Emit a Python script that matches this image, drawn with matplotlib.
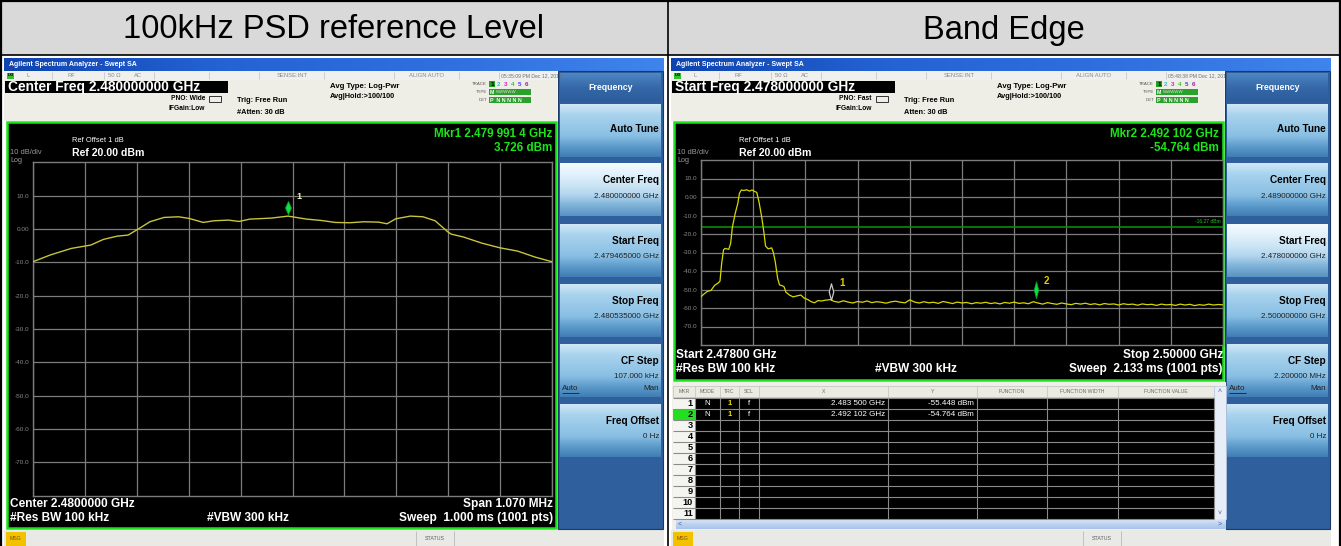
import numpy as np
import matplotlib
matplotlib.use("Agg")
import matplotlib.pyplot as plt
from matplotlib.patches import Rectangle
from matplotlib.colors import to_rgb

plt.rcParams['font.family'] = ['Liberation Sans', 'DejaVu Sans']

# ---------------- data ----------------
panel_titles = ["100kHz PSD reference Level", "Band Edge"]

# Left screen: 100 kHz PSD, centre 2.48 GHz, span 1.070 MHz
psd_center_ghz = 2.480
psd_span_khz = 1070.0
psd_offset_khz = [-535, -500, -456, -416, -390, -361, -339, -316, -294, -265,
                  -235, -213, -184, -162, -132, -110, -88, -44, -9, 29,
                  59, 88, 118, 147, 177, 195, 213, 243, 269, 294,
                  320, 327, 353, 390, 427, 464, 500, 535]
psd_level_dbm = [-9.8, -7.8, -5.8, -4.8, -3.1, -2.1, -1.8, 0.2, 2.2, 3.5,
                 3.7, 3.2, 2.0, 2.5, 2.7, 2.3, 3.0, 3.3, 3.9, 3.0,
                 2.6, 2.0, 1.9, 2.2, 2.1, 1.6, 3.1, 3.9, 3.7, 2.5,
                 -0.8, -1.5, -2.4, -4.2, -5.6, -6.6, -8.4, -9.8]
psd_mkr_freq_ghz = 2.4799914
psd_mkr_level_dbm = 3.726

# Right screen: band edge, 2.478 - 2.500 GHz
edge_start_ghz = 2.478
edge_stop_ghz = 2.500
lobe_offset_mhz = [0.00, 0.12, 0.27, 0.42, 0.57, 0.72, 0.80, 0.87, 0.95, 1.02,
                   1.17, 1.25, 1.32, 1.44, 1.55, 1.62, 1.70, 1.80, 1.92, 2.05,
                   2.15, 2.26, 2.35, 2.45, 2.56, 2.65, 2.72, 2.83, 2.98, 3.05,
                   3.13, 3.23, 3.31, 3.43, 3.50, 3.58, 3.73, 3.88, 4.03, 4.21,
                   4.33, 4.51, 4.63, 4.78, 4.93, 5.08, 5.23, 5.46]
lobe_level_dbm = [-53.9, -52.5, -51.0, -50.5, -47.8, -46.5, -45.5, -36.0, -28.5, -27.8,
                  -28.3, -25.0, -16.5, -9.0, -3.5, 2.0, 3.8, 3.5, 3.9, 3.2,
                  3.8, 3.0, 2.5, -3.0, -11.0, -19.0, -26.5, -28.0, -27.5, -30.0,
                  -35.0, -44.0, -47.5, -48.0, -48.5, -51.5, -53.0, -54.0, -53.5, -53.0,
                  -54.5, -55.5, -56.5, -57.2, -56.0, -56.2, -55.8, -55.45]
floor_start_mhz = 5.6
floor_step_mhz = 0.2
floor_level_dbm = [-56.4, -56.9, -56.1, -56.8, -57.3, -56.5, -56.9, -56.2, -57.1, -56.6,
                   -56.9, -57.4, -56.7, -56.3, -56.9, -57.2, -55.6, -56.8, -57.3, -56.6,
                   -57.2, -56.9, -57.5, -56.5, -57.0, -57.6, -56.8, -57.3, -57.0, -57.7,
                   -57.1, -57.4, -56.9, -57.6, -57.2, -57.8, -57.0, -57.4, -56.8, -57.5,
                   -57.2, -57.7, -56.6, -57.3, -57.9, -57.1, -57.6, -58.0, -57.3, -57.8,
                   -58.2, -57.5, -57.9, -57.4, -58.1, -57.7, -58.3, -57.6, -58.0, -57.8,
                   -58.4, -57.7, -58.1, -57.9, -58.5, -57.8, -58.2, -58.0, -58.6, -57.9,
                   -58.3, -58.1, -58.6, -57.9, -58.4, -58.0, -58.7, -58.2, -58.5, -57.9,
                   -58.4, -58.1, -58.3]
edge_mkr_freq_ghz = [2.4835, 2.492102]
edge_mkr_level_dbm = [-55.448, -54.764]
edge_display_line_dbm = -16.27

ref_level_dbm = 20.0
db_per_div = 10.0
y_labels = ["10.0", "0.00", "-10.0", "-20.0", "-30.0", "-40.0", "-50.0", "-60.0", "-70.0"]

# ---------------- figure ----------------
W, H = 1341, 546
fig = plt.figure(figsize=(W / 100, H / 100), dpi=100)
fig.patch.set_facecolor('white')
bg = fig.add_axes([0, 0, 1, 1])
bg.set_xlim(0, W)
bg.set_ylim(H, 0)
bg.axis('off')


def rect(x0, y0, x1, y1, fc, ec='none', lw=0, z=1):
    bg.add_patch(Rectangle((x0, y0), x1 - x0, y1 - y0, facecolor=fc, edgecolor=ec, linewidth=lw, zorder=z))


def grad(x0, y0, x1, y1, stops, horizontal=False, z=1):
    n = 64
    cols = np.array([to_rgb(c) for c in stops])
    pos = np.linspace(0, 1, len(stops))
    t = np.linspace(0, 1, n)
    img = np.stack([np.interp(t, pos, cols[:, k]) for k in range(3)], axis=1)
    img = img[None, :, :] if horizontal else img[:, None, :]
    bg.imshow(img, extent=(x0, x1, y1, y0), aspect='auto', interpolation='bilinear', zorder=z)


def txt(x, y, s, size, color='black', weight='normal', ha='left', va='center', z=5):
    bg.text(x, y, s, fontsize=size, color=color, fontweight=weight, ha=ha, va=va, zorder=z)


def hline(x0, x1, y, color, lw=1, z=2):
    bg.plot([x0, x1], [y, y], color=color, lw=lw, zorder=z, solid_capstyle='butt')


def vline(x, y0, y1, color, lw=1, z=2):
    bg.plot([x, x], [y0, y1], color=color, lw=lw, zorder=z, solid_capstyle='butt')


# ---------------- table frame ----------------
rect(0, 0, W, 55, '#d9d9d9', z=0)
hline(0, W, 0.8, 'black', 1.6, z=6)
hline(0, W, 55, 'black', 1.2, z=6)
vline(0.8, 0, H, 'black', 1.6, z=6)
vline(W - 0.8, 0, H, 'black', 1.6, z=6)
vline(668, 0, H, 'black', 1.2, z=6)
txt(334, 30, panel_titles[0], 23.5, ha='center')
txt(1004, 30, panel_titles[1], 23.5, ha='center')

GREEN = '#19e619'
GRID = '#7c7c7c'


def chrome(X0, time_s, freq_box, pno, atten, mkr1, mkr2, disp_bottom, softkeys, selected):
    # title bar
    grad(X0, 58, X0 + 660, 71, ['#0f44b0', '#2563d4', '#2f6fde', '#3f84ec'], horizontal=True)
    txt(X0 + 5, 64.5, "Agilent Spectrum Analyzer - Swept SA", 5, 'white', 'bold')
    # status row
    rect(X0, 71, X0 + 553, 80, '#f0f0ee')
    rect(X0 + 3, 72.5, X0 + 10, 78.5, '#30c030')
    txt(X0 + 6.5, 75.5, "LXI", 2.8, 'black', 'bold', ha='center')
    for dx in [48, 100, 150, 205, 255, 320, 390, 455, 495]:
        vline(X0 + dx, 72, 79, '#c8c8c8', 0.6)
    for dx, s in [(24, "L"), (67, "RF"), (110, "50 Ω"), (134, "AC"), (288, "SENSE:INT"),
                  (423, "ALIGN AUTO")]:
        txt(X0 + dx, 75.5, s, 4.2, '#8a8a8a', ha='center')
    txt(X0 + 497, 75.5, time_s, 3.7, '#707070')
    # header area
    rect(X0, 80, X0 + 553, 121, '#efeee6')
    rect(X0 + 1, 80.5, X0 + 224, 93, 'black')
    txt(X0 + 4, 87.2, freq_box, 9.9, 'white', 'bold')
    txt(X0 + 201, 99, pno, 4.8, 'black', 'bold', ha='right')
    txt(X0 + 201, 109, "IFGain:Low", 4.8, 'black', 'bold', ha='right')
    bg.add_patch(Rectangle((X0 + 205, 96), 12, 6, facecolor='none', edgecolor='#333333', lw=0.7, zorder=3))
    txt(X0 + 233, 101, "Trig: Free Run", 5.3, 'black', 'bold')
    txt(X0 + 233, 112, atten, 5.3, 'black', 'bold')
    txt(X0 + 326, 87, "Avg Type: Log-Pwr", 5.6, 'black', 'bold')
    txt(X0 + 326, 97, "Avg|Hold:>100/100", 5.3, 'black', 'bold')
    for dy, lab in [(84, "TRACE"), (92, "TYPE"), (100, "DET")]:
        txt(X0 + 483, dy, lab, 3.2, '#555555', ha='right')
    trace_cols = ['#d0d000', '#20c0e0', '#d020d0', '#30c030', '#4040ff', '#a020a0']
    rect(X0 + 485, 81, X0 + 491, 87, '#20a020')
    for i, c in enumerate(trace_cols):
        txt(X0 + 488 + i * 7, 84, str(i + 1), 4.5, c if i else 'black', 'bold', ha='center')
    rect(X0 + 485, 89, X0 + 527, 95, '#2ca02c')
    txt(X0 + 486, 92, "M", 3.8, 'white', 'bold')
    txt(X0 + 492, 92, "WWWWW", 3.2, '#e0e0e0')
    rect(X0 + 485, 97, X0 + 527, 103, '#2ca02c')
    txt(X0 + 486, 100, "P  N N N N N", 3.8, 'white', 'bold')

    # display area
    rect(X0 + 3, 122, X0 + 552, disp_bottom, 'black', GREEN, 1.8, z=2)
    txt(X0 + 68, 140, "Ref Offset 1 dB", 5.4, 'white')
    txt(X0 + 6, 153, "10 dB/div", 5.4, '#9a9a9a')
    txt(X0 + 68, 152.5, "Ref 20.00 dBm", 7.6, 'white', 'bold')
    txt(X0 + 6, 160, "Log", 5.2, '#9a9a9a')
    txt(X0 + 548, 134, mkr1, 8.4, GREEN, 'bold', ha='right', z=6)
    txt(X0 + 548, 148, mkr2, 8.4, GREEN, 'bold', ha='right', z=6)

    # MSG bar
    rect(X0, 530, X0 + 660, H, '#e9e9e6')
    rect(X0 + 2, 532, X0 + 22, H, '#f2c200')
    txt(X0 + 12, 539, "MSG", 3.8, '#805000', ha='center')
    vline(X0 + 412, 531, H, '#c0c0c0', 0.7)
    vline(X0 + 450, 531, H, '#c0c0c0', 0.7)
    txt(X0 + 431, 539, "STATUS", 3.8, '#606060', ha='center')

    # softkeys
    sx0, sx1 = X0 + 554, X0 + 659
    rect(sx0, 71, sx1, 529, '#2f5f9c', '#1a3a6a', 0.8)
    grad(sx0 + 2, 73, sx1 - 2, 102, ['#4f86c4', '#3568a8', '#2c5c9a'])
    txt((sx0 + sx1) / 2, 88, "Frequency", 6.3, 'white', 'bold', ha='center')
    tops = [104, 163, 224, 284, 344, 404]
    for i, (top, lines) in enumerate(zip(tops, softkeys)):
        bot = top + 53
        if i == selected:
            stops = ['#f4fbff', '#e2f1fb', '#cde6f5', '#b3d6ee', '#7eb2d8', '#5a94c4']
        else:
            stops = ['#cfe7f6', '#a9d3ee', '#98c8e8', '#8ac0e4', '#5e9ccc', '#3f7db4']
        grad(sx0 + 2, top, sx1 - 2, bot, stops)
        title = lines[0]
        ty = top + (25 if len(lines) == 1 else 17)
        txt(sx1 - 4, ty, title, 7.2, 'black', 'bold', ha='right')
        if len(lines) >= 2:
            txt(sx1 - 4, ty + 16, lines[1], 5.8, '#202020', ha='right')
        if len(lines) == 3:
            txt(sx0 + 4, ty + 28, "Auto", 5.8, '#202020')
            hline(sx0 + 4, sx0 + 21, ty + 32, '#202020', 0.6, z=6)
            txt(sx1 - 4, ty + 28, "Man", 5.8, '#202020', ha='right')


def make_screen_axes(x0, y0, x1, y1):
    ax = fig.add_axes([x0 / W, 1 - y1 / H, (x1 - x0) / W, (y1 - y0) / H])
    ax.set_facecolor('black')
    for s in ax.spines.values():
        s.set_color(GRID)
        s.set_linewidth(1.0)
    ax.set_ylim(ref_level_dbm - 10 * db_per_div, ref_level_dbm)
    ax.set_yticks(np.arange(ref_level_dbm - db_per_div, ref_level_dbm - 9 * db_per_div - 1, -db_per_div))
    ax.set_yticklabels(y_labels)
    ax.tick_params(axis='y', length=0, pad=2.5, labelsize=4.6, labelcolor='#8a8a8a')
    ax.tick_params(axis='x', length=0, labelbottom=False)
    ax.grid(True, color=GRID, lw=0.9)
    ax.set_axisbelow(True)
    return ax


# ---------------- left screen ----------------
XL = 4
chrome(XL, "05:35:09 PM Dec 12, 2017", "Center Freq 2.480000000 GHz", "PNO: Wide", "#Atten: 30 dB",
       "Mkr1 2.479 991 4 GHz", "3.726 dBm", 528,
       [["Auto Tune"], ["Center Freq", "2.480000000 GHz"], ["Start Freq", "2.479465000 GHz"],
        ["Stop Freq", "2.480535000 GHz"], ["CF Step", "107.000 kHz", "Auto"], ["Freq Offset", "0 Hz"]],
       selected=1)
txt(XL + 6, 504, "Center 2.4800000 GHz", 8.6, 'white', 'bold', z=6)
txt(XL + 549, 504, "Span 1.070 MHz", 8.6, 'white', 'bold', ha='right', z=6)
txt(XL + 6, 518, "#Res BW 100 kHz", 8.6, 'white', 'bold', z=6)
txt(XL + 203, 518, "#VBW 300 kHz", 8.6, 'white', 'bold', z=6)
txt(XL + 549, 518, "Sweep  1.000 ms (1001 pts)", 8.6, 'white', 'bold', ha='right', z=6)

axL = make_screen_axes(33, 162.5, 552, 495.5)
axL.set_xlim(-psd_span_khz / 2, psd_span_khz / 2)
axL.set_xticks(np.arange(-psd_span_khz / 2, psd_span_khz / 2 + 1, psd_span_khz / 10))
axL.plot(psd_offset_khz, psd_level_dbm, color='#c8c43c', lw=1.0, zorder=3)
mk_off = (psd_mkr_freq_ghz - psd_center_ghz) * 1e6
diamond = [(0, 0.35), (0.36, 1.15), (0, 1.95), (-0.36, 1.15), (0, 0.35)]
axL.plot([mk_off], [psd_mkr_level_dbm], marker=diamond, ms=23, color='#10e040', mec='#0aa030',
         mew=0.6, ls='none', zorder=4)
axL.annotate("1", (mk_off, psd_mkr_level_dbm), xytext=(6, 13), textcoords='offset points',
             color='#f0f0b0', fontsize=6.5, fontweight='bold', zorder=5)

# ---------------- right screen ----------------
XR = 671
chrome(XR, "05:48:38 PM Dec 12, 2017", "Start Freq 2.478000000 GHz", "PNO: Fast", "Atten: 30 dB",
       "Mkr2 2.492 102 GHz", "-54.764 dBm", 380,
       [["Auto Tune"], ["Center Freq", "2.489000000 GHz"], ["Start Freq", "2.478000000 GHz"],
        ["Stop Freq", "2.500000000 GHz"], ["CF Step", "2.200000 MHz", "Auto"], ["Freq Offset", "0 Hz"]],
       selected=2)
txt(XR + 5, 355, "Start 2.47800 GHz", 8.6, 'white', 'bold', z=6)
txt(XR + 552, 355, "Stop 2.50000 GHz", 8.6, 'white', 'bold', ha='right', z=6)
txt(XR + 5, 369, "#Res BW 100 kHz", 8.6, 'white', 'bold', z=6)
txt(XR + 204, 369, "#VBW 300 kHz", 8.6, 'white', 'bold', z=6)
txt(XR + 552, 369, "Sweep  2.133 ms (1001 pts)", 8.6, 'white', 'bold', ha='right', z=6)

axR = make_screen_axes(701, 160, 1223, 345)
span_ghz = edge_stop_ghz - edge_start_ghz
axR.set_xlim(edge_start_ghz, edge_stop_ghz)
axR.set_xticks(edge_start_ghz + np.arange(11) * span_ghz / 10)
floor_f = floor_start_mhz + floor_step_mhz * np.arange(len(floor_level_dbm))
trace_f = edge_start_ghz + np.concatenate([lobe_offset_mhz, floor_f]) / 1000.0
trace_l = np.concatenate([lobe_level_dbm, floor_level_dbm])
axR.axhline(edge_display_line_dbm, color='#0a8a0a', lw=1.2, zorder=2)
axR.text(edge_stop_ghz - 0.0001, edge_display_line_dbm + 1.5, "-16.27 dBm", color='#20c020',
         fontsize=3.6, ha='right', va='bottom', zorder=3)
axR.plot(trace_f, trace_l, color='#d8d800', lw=0.9, zorder=3)
diamond2 = [(0, 0), (0.27, 1), (0, 2), (-0.27, 1), (0, 0)]
axR.plot([edge_mkr_freq_ghz[0]], [edge_mkr_level_dbm[0]], marker=diamond2, ms=24, color='white',
         mfc='black', mec='#c8c8c8', mew=0.9, ls='none', zorder=4)
axR.plot([edge_mkr_freq_ghz[1]], [edge_mkr_level_dbm[1]], marker=diamond2, ms=24, color='#10e040',
         mec='#0aa030', mew=0.6, ls='none', zorder=4)
for i in range(2):
    axR.annotate(str(i + 1), (edge_mkr_freq_ghz[i], edge_mkr_level_dbm[i]), xytext=(6, 10),
                 textcoords='offset points', color='#e0d000', fontsize=7, fontweight='bold', zorder=5)

# marker table
col_x = [673, 695, 720, 739, 759, 888, 977, 1047, 1118, 1214]
col_names = ["MKR", "MODE", "TRC", "SCL", "X", "Y", "FUNCTION", "FUNCTION WIDTH", "FUNCTION VALUE"]
rect(672, 382, 1226, 530, '#f0efe8')
rect(673, 386, 1214, 397, '#ecebe2', '#c0c0c0', 0.5)
for i, nm in enumerate(col_names):
    txt((col_x[i] + col_x[i + 1]) / 2, 391.5, nm, 3.7, '#6a6a6a', ha='center')
    if i > 0:
        vline(col_x[i], 386, 397, '#c0c0c0', 0.5)
row_top = 398
row_h = 11
rect(col_x[1], row_top, col_x[-1], row_top + 11 * row_h, 'black')
rect(col_x[0], row_top, col_x[1], row_top + 11 * row_h, '#f4f4f0')
rect(col_x[0], row_top + row_h, col_x[1], row_top + 2 * row_h, '#20e020')
for r in range(12):
    hline(col_x[0], col_x[-1], row_top + r * row_h, '#8a8a8a', 0.8, z=3)
for c in col_x[1:]:
    vline(c, row_top, row_top + 11 * row_h, '#8a8a8a', 0.8, z=3)
for r in range(11):
    txt(col_x[1] - 2, row_top + r * row_h + 5.7, str(r + 1), 6.6, 'black', 'bold', ha='right')
for r in range(2):
    yy = row_top + r * row_h + 5.5
    txt((col_x[1] + col_x[2]) / 2, yy, "N", 5.6, 'white', ha='center')
    txt((col_x[2] + col_x[3]) / 2, yy, "1", 5.6, '#f0e000', 'bold', ha='center')
    txt((col_x[3] + col_x[4]) / 2, yy, "f", 5.6, 'white', ha='center')
    fx = edge_mkr_freq_ghz[r]
    s = f"{fx:.6f}"
    txt(col_x[5] - 3, yy, f"{s[:5]} {s[5:]} GHz", 5.8, 'white', ha='right')
    txt(col_x[6] - 3, yy, f"{edge_mkr_level_dbm[r]:.3f} dBm", 5.8, 'white', ha='right')
# scrollbars
rect(1214, 386, 1226, 519, '#e8eef8', '#b8c8e0', 0.5)
txt(1220, 391.5, "˄", 5, '#4060a0', ha='center')
txt(1220, 514, "˅", 5, '#4060a0', ha='center')
grad(676, 519, 1226, 529, ['#dfe9f8', '#bcd2f0', '#a9c4ea'])
txt(678, 524, "<", 5, '#4060a0')
txt(1220, 524, ">", 5, '#4060a0', ha='center')

bg.set_xlim(0, W)
bg.set_ylim(H, 0)
fig.savefig("out.png", dpi=100, facecolor='white')
